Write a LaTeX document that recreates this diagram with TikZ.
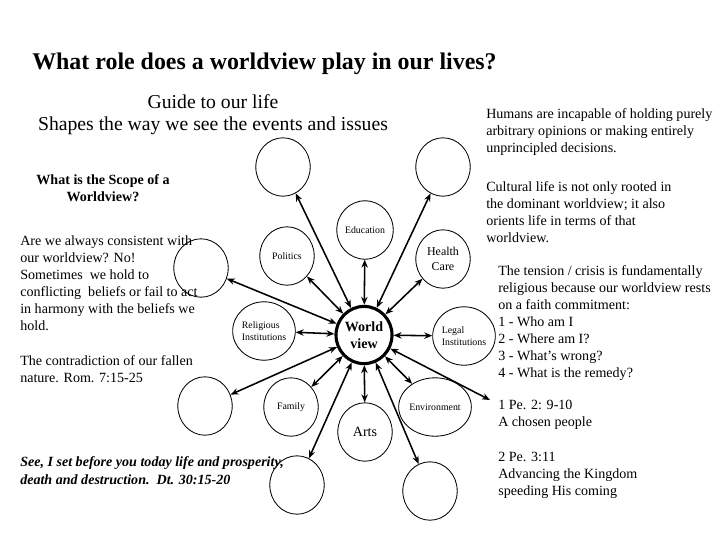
\documentclass[tikz,border=0pt]{standalone}
\usepackage{fontspec}
\setmainfont{Liberation Serif}
\usetikzlibrary{arrows.meta,shapes.geometric}

\begin{document}
\begin{tikzpicture}[x=0.025cm, y=-0.025cm,
    txt/.style={inner sep=0pt, align=left, anchor=base west,
      font=\fontsize{10}{12}\selectfont},
    ring/.style={ellipse, draw, line width=0.6pt, minimum width=1.36cm,
      minimum height=1.46cm, inner sep=0pt, align=center,
      font=\fontsize{7}{8.5}\selectfont},
    fl/.style={{Stealth[length=2mm,width=1.6mm]}-{Stealth[length=2mm,width=1.6mm]},
      line width=1.1pt}]
    \useasboundingbox (0,0) rectangle (720,540);
    \node[inner sep=0pt, anchor=base west, font=\fontsize{17}{20}\selectfont\bfseries]
      (titre) at (32,69) {What role does a worldview play in our lives?};
    \node[inner sep=0pt, anchor=base, align=center, font=\fontsize{14}{15.6}\selectfont]
      (guide) at (213,130) {Guide to our life\\Shapes the way we see the events and issues};
    \node[txt, anchor=base, align=center, font=\fontsize{10}{11.4}\selectfont\bfseries]
      (scope) at (103,201) {What is the Scope of a\\Worldview?};
    \node[txt] (coherent) at (20,330)
      {Are we always consistent with\\our worldview? No!\\Sometimes\ \ we hold to\\
       conflicting\ \ beliefs or fail to act\\in harmony with the beliefs we\\hold.};
    \node[txt] (chute) at (20,382)
      {The contradiction of our fallen\\nature. Rom. 7:15-25};
    \node[txt, font=\fontsize{10}{12.6}\selectfont\bfseries\itshape] (choix) at (20,484)
      {See, I set before you today life and prosperity,\\death and destruction.\ \ Dt. 30:15-20};
    \node[txt] (humains) at (486,152)
      {Humans are incapable of holding purely\\arbitrary opinions or making entirely\\
       unprincipled decisions.};
    \node[txt] (culture) at (486,242)
      {Cultural life is not only rooted in\\the dominant worldview; it also\\
       orients life in terms of that\\worldview.};
    \node[txt] (tension) at (498,377)
      {The tension / crisis is fundamentally\\religious because our worldview rests\\
       on a faith commitment:\\1 - Who am I\\2 - Where am I?\\3 - What's wrong?\\
       4 - What is the remedy?};
    \node[txt] (peuple) at (498,426) {1 Pe. 2: 9-10\\A chosen people};
    \node[txt] (royaume) at (498,495)
      {2 Pe. 3:11\\Advancing the Kingdom\\speeding His coming};
    \node[ring, line width=2.2pt, minimum width=1.4cm, minimum height=1.43cm,
      font=\fontsize{10}{12}\selectfont\bfseries] (wv) at (364,335) {World\\view};
    \node[ring] (ul) at (283,167) {};
    \node[ring] (ur) at (443,167) {};
    \node[ring] (edu) at (365,230) {Education};
    \node[ring] (pol) at (287,256) {Politics};
    \node[ring, font=\fontsize{8.5}{10.6}\selectfont] (hc) at (443,259) {Health\\Care};
    \node[ring, align=left] (rel) at (264,331) {Religious\\Institutions};
    \node[ring, align=left] (leg) at (464,336) {Legal\\Institutions};
    \node[ring] (lu) at (201,268) {};
    \node[ring] (ll) at (205,406) {};
    \node[ring] (fam) at (291,407) {Family};
    \node[ring, font=\fontsize{10}{12}\selectfont] (arts) at (365,432) {Arts};
    \node[ring] (env) at (435,407) {Environment};
    \node[ring] (bl) at (297,485) {};
    \node[ring] (br) at (430,491) {};
    \coordinate (pe) at (490,400);
    \foreach \cible in {ul,ur,edu,pol,hc,rel,leg,lu,ll,fam,arts,env,bl,br,pe}
      \draw[fl] (wv) -- (\cible);
  \end{tikzpicture}
\end{document}
